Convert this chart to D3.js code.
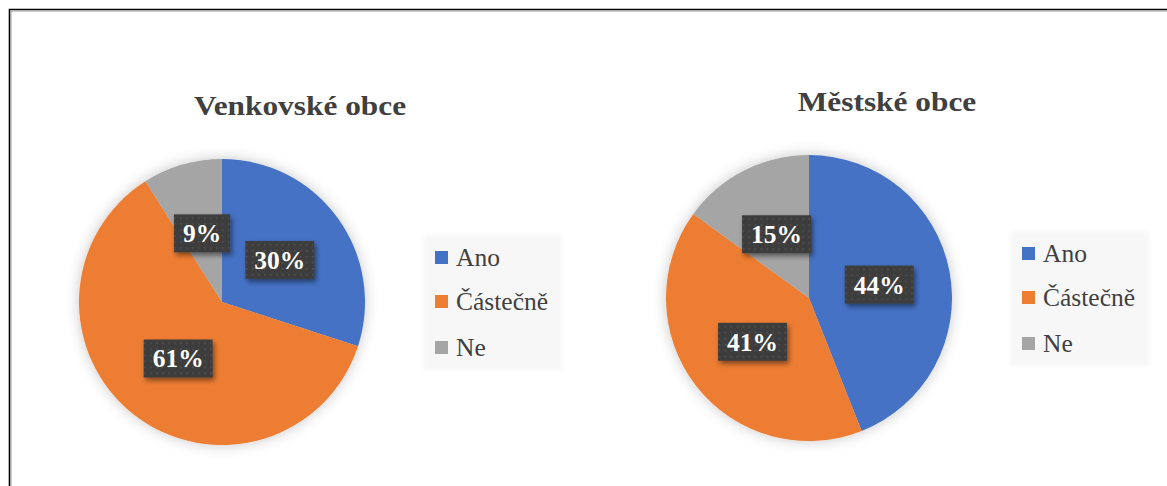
<!DOCTYPE html>
<html>
<head>
<meta charset="utf-8">
<script src="https://cdn.jsdelivr.net/npm/d3@7"></script>
<style>
  body { margin: 0; background: #fff; }
  svg { display: block; }
</style>
</head>
<body>
<div id="chart"></div>
<script>
// answers (Ano / Částečně / Ne) in percent
const categories = ["Ano", "Částečně", "Ne"];
const titles = ["Venkovské obce", "Městské obce"];
const venkovske = [30, 61, 9];
const mestske = [44, 41, 15];
const colors = ["#4472C4", "#ED7D31", "#A5A5A5"];

const W = 1167, H = 486;
const radius = 143;
const serif = "Liberation Serif, serif";

const svg = d3.select("#chart").append("svg")
  .attr("width", W).attr("height", H);

const defs = svg.append("defs");

// soft glow around the pies
const glow = defs.append("filter").attr("id", "pieShadow")
  .attr("x", "-20%").attr("y", "-20%").attr("width", "140%").attr("height", "140%");
glow.append("feDropShadow")
  .attr("dx", 0).attr("dy", 0).attr("stdDeviation", 7)
  .attr("flood-color", "#000").attr("flood-opacity", 0.22);

// shadow for the label boxes
const boxSh = defs.append("filter").attr("id", "boxShadow")
  .attr("x", "-30%").attr("y", "-30%").attr("width", "160%").attr("height", "170%");
boxSh.append("feDropShadow")
  .attr("dx", 2).attr("dy", 3).attr("stdDeviation", 2.5)
  .attr("flood-color", "#000").attr("flood-opacity", 0.45);

// dotted dark fill of the label boxes
const pat = defs.append("pattern").attr("id", "dots")
  .attr("width", 6).attr("height", 6).attr("patternUnits", "userSpaceOnUse");
pat.append("rect").attr("width", 6).attr("height", 6).attr("fill", "#3d3d3d");
pat.append("rect").attr("x", 2).attr("y", 2).attr("width", 1.5).attr("height", 1.5).attr("fill", "#555");

// soft legend background
const legBlur = defs.append("filter").attr("id", "legBlur")
  .attr("x", "-10%").attr("y", "-10%").attr("width", "120%").attr("height", "120%");
legBlur.append("feGaussianBlur").attr("stdDeviation", 2);

// frame (only top & left edges are visible)
svg.append("path").attr("d", `M9.5,${H} V9.5 H${W}`)
  .attr("fill", "none").attr("stroke", "#000").attr("stroke-width", 1.6);
svg.append("path").attr("d", `M11,${H} V11 H${W}`)
  .attr("fill", "none").attr("stroke", "#9a9a9a").attr("stroke-width", 1);

const pie = d3.pie().sort(null).value(d => d);
const arc = d3.arc().innerRadius(0).outerRadius(radius);
const labelArc = d3.arc().innerRadius(radius * 0.5).outerRadius(radius * 0.5);

function drawChart(values, title, cx, cy) {
  const g = svg.append("g");

  // title text in the original is a bit wider than Liberation Serif, so stretch it
  g.append("text")
    .attr("transform", `translate(${cx + 78},${cy - 187}) scale(1.12,1)`)
    .attr("text-anchor", "middle")
    .attr("font-family", serif).attr("font-weight", "bold")
    .attr("font-size", 28).attr("fill", "#404040")
    .text(title);

  const pg = g.append("g").attr("transform", `translate(${cx},${cy})`);
  pg.append("g").attr("filter", "url(#pieShadow)")
    .selectAll("path")
    .data(pie(values))
    .enter().append("path")
    .attr("d", arc)
    .attr("fill", (d, i) => colors[i]);

  // data labels
  const lab = pg.selectAll(".lab")
    .data(pie(values))
    .enter().append("g")
    .attr("class", "lab")
    .attr("transform", d => `translate(${labelArc.centroid(d)})`);

  lab.each(function (d) {
    const el = d3.select(this);
    const rect = el.append("rect").attr("fill", "url(#dots)").attr("filter", "url(#boxShadow)");
    const t = el.append("text")
      .attr("text-anchor", "middle")
      .attr("dy", "0.35em")
      .attr("font-family", serif).attr("font-weight", "bold")
      .attr("font-size", 25.5).attr("fill", "#fff")
      .text(d.data + "%");
    const bb = t.node().getBBox();
    const w = bb.width + 18, h = 38;
    rect.attr("x", -w / 2).attr("y", -h / 2).attr("width", w).attr("height", h);
  });

  // legend
  const lx = cx + 201, ly = cy - 67;
  const lg = g.append("g").attr("transform", `translate(${lx},${ly})`);
  lg.append("rect").attr("width", 139).attr("height", 135)
    .attr("fill", "#f7f7f7").attr("filter", "url(#legBlur)");

  const rowY = [31, 75, 121];
  const item = lg.selectAll(".item")
    .data(categories)
    .enter().append("g")
    .attr("class", "item")
    .attr("transform", (d, i) => `translate(12,${rowY[i]})`);
  item.append("rect")
    .attr("y", -15).attr("width", 13).attr("height", 13)
    .attr("fill", (d, i) => colors[i]);
  item.append("text")
    .attr("x", 21)
    .attr("font-family", serif)
    .attr("font-size", 25.5).attr("fill", "#404040")
    .text(d => d);
}

drawChart(venkovske, titles[0], 222, 302);
drawChart(mestske, titles[1], 809, 298);
</script>
</body>
</html>
